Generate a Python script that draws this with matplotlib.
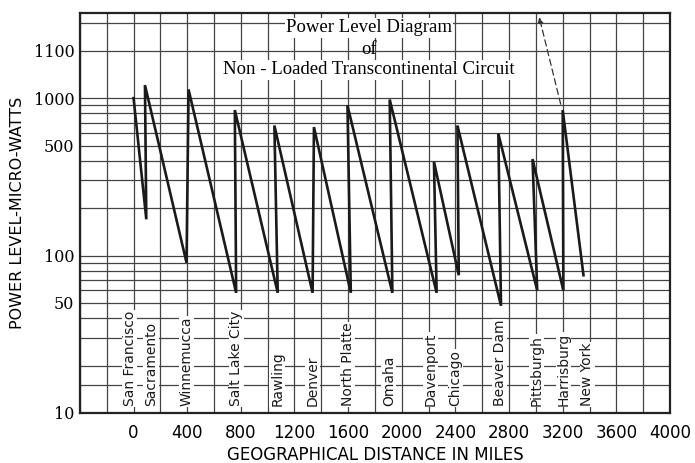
import matplotlib
matplotlib.use('Agg')
import matplotlib.pyplot as plt

# power level along the circuit (miles from San Francisco, micro-watts)
miles = [0, 95, 85, 395, 410, 765, 755, 1075, 1050, 1335, 1345, 1620, 1595,
         1930, 1910, 2260, 2240, 2425, 2415, 2740, 2720, 3010, 2975, 3205,
         3200, 3355]
power = [1000, 170, 1210, 90, 1135, 58, 840, 58, 670, 58, 655, 58, 900,
         58, 980, 58, 395, 75, 670, 48, 595, 60, 410, 60, 840, 75]

# dashed pointer near Harrisburg
pointerMiles = [3190, 3020]
pointerPower = [880, 3400]

cities = ['San Francisco', 'Sacramento', 'Winnemucca', 'Salt Lake City',
          'Rawling', 'Denver', 'North Platte', 'Omaha', 'Davenport',
          'Chicago', 'Beaver Dam', 'Pittsburgh', 'Harrisburg', 'New York']
cityMiles = [-30, 129, 394, 766, 1071, 1336, 1596, 1903, 2216, 2401,
             2729, 3004, 3204, 3383]

xTicks = [0, 400, 800, 1200, 1600, 2000, 2400, 2800, 3200, 3600, 4000]
xGrid = list(range(-400, 4001, 200))
yTicks = [10, 50, 100, 500, 1000, 2000]
yTickLabels = ['10', '50', '100', '500', '1000', '1100']
yGrid = [15] + list(range(20, 100, 10)) + list(range(200, 1000, 100)) + [3000]

titleLines = ['Power Level Diagram', 'of', 'Non - Loaded Transcontinental Circuit']

fig = plt.figure(figsize=(6.95, 4.63), dpi=100)
ax = fig.add_axes([0.115, 0.108, 0.849, 0.864])

ax.set_yscale('log')
ax.set_xlim(-400, 4000)
ax.set_ylim(10, 3475)

ax.set_xticks(xTicks)
ax.set_xticks(xGrid, minor=True)
ax.set_yticks(yTicks)
ax.set_yticklabels(yTickLabels)
ax.set_yticks(yGrid, minor=True)
ax.yaxis.set_minor_formatter(matplotlib.ticker.NullFormatter())

ax.grid(True, which='both', color='#444444', linewidth=0.9)
ax.set_axisbelow(True)
ax.tick_params(which='both', length=0)
ax.tick_params(axis='x', pad=8, labelsize=12)
ax.tick_params(axis='y', pad=4)
for lab in ax.get_yticklabels():
    lab.set_family('DejaVu Serif')
    lab.set_fontsize(11.5)
for sp in ax.spines.values():
    sp.set_linewidth(1.6)
    sp.set_color('#222222')

ax.plot(miles, power, color='#1a1a1a', linewidth=1.9, solid_joinstyle='miter')

ax.annotate('', xy=(pointerMiles[1], pointerPower[1]),
            xytext=(pointerMiles[0], pointerPower[0]),
            arrowprops=dict(arrowstyle='-|>', linestyle=(0, (5, 3)),
                            color='#333333', lw=0.9, mutation_scale=8))

for name, m in zip(cities, cityMiles):
    ax.text(m, 11.1, name, rotation=90, ha='center', va='bottom',
            fontsize=10, family=['Liberation Sans Narrow', 'DejaVu Sans'],
            color='#1a1a1a',
            bbox=dict(facecolor='white', edgecolor='none', pad=0.5))

ax.text(0.49, 0.9625, titleLines[0], transform=ax.transAxes, ha='center',
        va='center', fontsize=13.5, family='Liberation Serif',
        bbox=dict(facecolor='white', edgecolor='none', pad=1))
ax.text(0.49, 0.9075, titleLines[1], transform=ax.transAxes, ha='center',
        va='center', fontsize=13.5, family='Liberation Serif')
ax.text(0.49, 0.8575, titleLines[2], transform=ax.transAxes, ha='center',
        va='center', fontsize=13.5, family='Liberation Serif',
        bbox=dict(facecolor='white', edgecolor='none', pad=1))

ax.set_xlabel('GEOGRAPHICAL DISTANCE IN MILES', fontsize=12, labelpad=3)
ax.set_ylabel('POWER LEVEL-MICRO-WATTS', fontsize=11.5, labelpad=6)

fig.savefig('out.png', dpi=100)
